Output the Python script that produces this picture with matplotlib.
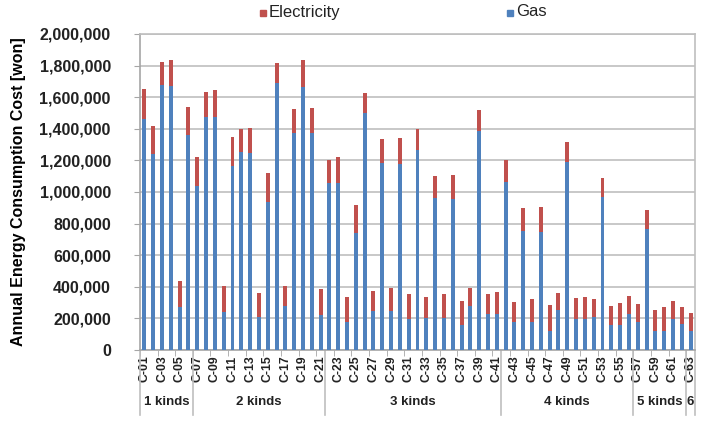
import matplotlib
matplotlib.use("Agg")
import matplotlib.pyplot as plt
from matplotlib.patches import Rectangle
from matplotlib.lines import Line2D
from matplotlib.ticker import FuncFormatter, MultipleLocator
import numpy as np

plt.rcParams["font.family"] = ["Liberation Sans", "DejaVu Sans"]

# case ids C-01 .. C-63
cases = [f"C-{i:02d}" for i in range(1, 64)]

# total annual cost (gas + electricity) and gas part, in won
total = [
    1650000, 1418000, 1825000, 1835000, 439000, 1540000,
    1224000, 1635000, 1646000, 407000, 1346000, 1401000, 1407000, 363000, 1118000,
    1818000, 407000, 1523000, 1835000, 1530000, 388000,
    1203000, 1219000, 333000, 916000, 1629000, 376000, 1333000, 395000, 1340000, 354000,
    1401000, 333000, 1103000, 354000, 1108000, 310000, 395000, 1519000, 354000, 369000,
    1203000, 306000, 897000, 321000, 903000, 285000, 363000, 1319000, 327000, 338000,
    321000, 1086000, 278000, 300000, 344000,
    289000, 886000, 253000, 270000, 310000, 270000,
    236000,
]
gas = [
    1464000, 1238000, 1675000, 1671000, 270000, 1361000,
    1040000, 1477000, 1473000, 243000, 1165000, 1253000, 1245000, 207000, 939000,
    1688000, 278000, 1371000, 1667000, 1371000, 222000,
    1055000, 1055000, 175000, 738000, 1498000, 247000, 1181000, 247000, 1177000, 196000,
    1266000, 205000, 960000, 205000, 954000, 158000, 278000, 1388000, 226000, 226000,
    1065000, 175000, 755000, 175000, 747000, 122000, 253000, 1192000, 196000, 196000,
    211000, 970000, 158000, 158000, 228000,
    179000, 764000, 122000, 122000, 196000, 165000,
    122000,
]
electricity = [t - g for t, g in zip(total, gas)]

group_names = ["1 kinds", "2 kinds", "3 kinds", "4 kinds", "5 kinds", "6"]
group_sizes = [6, 15, 20, 15, 6, 1]

BLUE = "#4F81BD"
RED = "#C0504D"
GRID = "#BFBFBF"
TEXT = "#222222"

fig = plt.figure(figsize=(7.02, 4.23), dpi=100)
ax = fig.add_axes([140 / 702, 1 - 350 / 423, 555 / 702, 316 / 423])

x = np.arange(len(cases))
ax.bar(x, gas, width=0.45, color=BLUE, zorder=3)
ax.bar(x, electricity, width=0.45, bottom=gas, color=RED, zorder=3)

ax.set_xlim(-0.5, len(cases) - 0.5)
ax.set_ylim(0, 2000000)
ax.yaxis.set_major_locator(MultipleLocator(200000))
ax.yaxis.set_major_formatter(FuncFormatter(lambda v, p: f"{int(v):,}"))
ax.grid(axis="y", color=GRID, lw=1.2, zorder=0)
for s in ax.spines.values():
    s.set_color(GRID)
    s.set_linewidth(1.2)
ax.spines["left"].set_color("#A6A6A6")
ax.spines["bottom"].set_color("#A6A6A6")

ax.tick_params(axis="y", length=4, color="#A6A6A6", labelsize=11.5, pad=17)
for lbl in ax.get_yticklabels():
    lbl.set_fontweight("bold")
    lbl.set_color(TEXT)

ax.set_xticks(x[::2])
ax.set_xticklabels(cases[::2], rotation=90, fontsize=8.8, fontweight="bold", color=TEXT)
ax.tick_params(axis="x", length=0, pad=4)
# small ticks between label pairs
ax.set_xticks(np.arange(-0.5, len(cases), 2), minor=True)
ax.tick_params(axis="x", which="minor", length=4, color="#A6A6A6")

ax.set_ylabel("Annual Energy Consumption Cost [won]", fontsize=11.5, fontweight="bold")
ax.yaxis.set_label_coords(-0.205, 0.5)

# group separators and labels below the axis
trans = ax.get_xaxis_transform()
bounds = np.concatenate([[0], np.cumsum(group_sizes)]) - 0.5
for b in bounds:
    ax.add_line(Line2D([b, b], [0, -0.205], transform=trans, color=GRID, lw=1.2, clip_on=False))
for name, lo, hi in zip(group_names, bounds[:-1], bounds[1:]):
    ax.text((lo + hi) / 2, -0.165, name, transform=trans, ha="center", va="center",
            fontsize=9.5, fontweight="bold", color=TEXT)

# legend on top
for xs, lab, col in [(260, "Electricity", RED), (507, "Gas", BLUE)]:
    fig.add_artist(Rectangle((xs / 702, 1 - 16 / 423), 6 / 702, 6 / 423, color=col, transform=fig.transFigure))
    fig.text((xs + 9) / 702, 1 - 12 / 423, lab, fontsize=12, va="center", ha="left", color=TEXT)

fig.savefig("out.png", dpi=100)
